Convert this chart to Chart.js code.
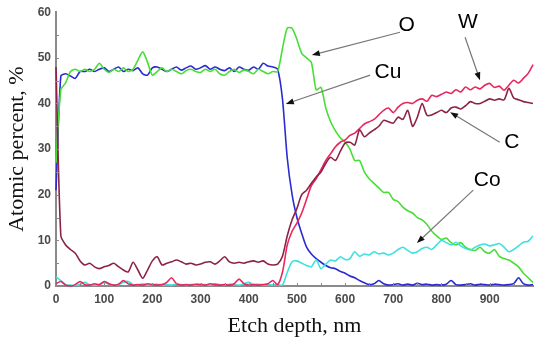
<!DOCTYPE html>
<html>
<head>
<meta charset="utf-8">
<script src="https://cdn.jsdelivr.net/npm/chart.js@4"></script>
<style>
  html, body { margin: 0; padding: 0; background: #fff; }
  #wrap { width: 534px; height: 341px; }
</style>
</head>
<body>
<div id="wrap"><canvas id="myChart" width="534" height="341"></canvas></div>
<script>
// etch depth, nm (every 10 nm)
const depth = [];
for (let d = 0; d <= 990; d += 10) depth.push(d);

const xTicks = [0, 100, 200, 300, 400, 500, 600, 700, 800, 900];
const yTicks = [0, 10, 20, 30, 40, 50, 60];

// atomic percent
const cu = [21, 46, 46.5, 46, 45.5, 47, 47, 47.5, 47, 47.5,
  47.8, 47, 47.5, 48, 47, 47.5, 47.2, 47.8, 46.5, 46.2,
  47.8, 48, 47.5, 47, 47.5, 48, 47.3, 47.8, 48.2, 47.5,
  47.8, 48.3, 47.5, 48, 47.5, 47.2, 47.8, 47, 48, 47.5,
  47.3, 48, 47.5, 48.8, 48.2, 48, 47.5, 41, 28, 20,
  15, 11.5, 8.5, 7, 6, 5.2, 4.5, 4, 3.8, 3.2,
  2.8, 2.2, 1.8, 1.2, 0.7, 0.3, 0.5, 1.2, 0.5, 0.2,
  0.3, 0.5, 0.2, 0.4, 0.2, 0.6, 0.3, 0.4, 0.2, 0.3,
  0.2, 0.4, 1.2, 0.3, 0.2, 0.3, 0.5, 0.2, 0.4, 0.3,
  0.2, 0.4, 0.3, 0.2, 0.3, 0.5, 1.8, 0.5, 0.2, 0.3];

const o = [27, 43, 44.5, 47, 47.5, 47, 47.5, 47, 47.5, 48.8,
  47.5, 46.8, 47.5, 47, 47.8, 47, 47.5, 49.5, 51.3, 49,
  46.2, 47, 47.8, 47, 47.5, 47, 46.5, 47.2, 47.5, 47,
  46.8, 47.5, 47, 47.5, 46.5, 46.2, 47, 47.5, 46.8, 47.3,
  47, 46.5, 47.5, 47, 46.5, 47, 47, 52, 56.5, 56.5,
  54, 51, 50, 49, 43, 43.5, 39, 36, 34, 32.5,
  31.5, 30, 27.5, 27.5, 25, 23.5, 22.5, 21.5, 20.5, 20.5,
  19, 18.5, 17.3, 16.5, 16, 15, 14.5, 13.5, 12, 11,
  10.2, 10.5, 9.5, 9, 9.5, 8.5, 8, 7.8, 8.5, 7.5,
  7.2, 8, 6.5, 6, 5.7, 5, 4.2, 2.8, 1.8, 0.8];

const c = [48, 11, 9, 8, 7.2, 5.5, 4.6, 5, 4.2, 3.8,
  4.2, 4.5, 5, 4.2, 3.5, 3.1, 5.2, 3.5, 1.7, 3.5,
  5.5, 6.4, 4.6, 5, 5.3, 5.7, 5.3, 4.8, 5, 4.6,
  4.8, 5.2, 5.3, 4.8, 5.5, 6.4, 5.3, 5, 5.2, 5,
  5.3, 5.5, 5.2, 5.5, 4.8, 4.6, 4.8, 6.5, 11, 14.5,
  17, 20, 21, 22.5, 23.9, 25, 26.9, 28.2, 27.5, 29.5,
  31.3, 31.5, 30.9, 34.2, 32.7, 33.5, 34.2, 35, 36.3, 36,
  35.7, 37, 36.5, 38.5, 35, 37, 40, 37.4, 37.5, 38,
  38.5, 38, 39, 39.2, 38.8, 39.5, 40.4, 40, 40, 40.5,
  41, 40.7, 41, 40.8, 43.3, 41.2, 40.8, 40.4, 40.2, 40];

const w = [0.5, 1, 0.2, 0, 0.3, 1, 0.3, 0.2, 0.5, 0.3,
  1, 0.5, 0.2, 0.4, 1.2, 0.5, 0.2, 0.3, 0.2, 0.5,
  0.3, 0.2, 0.3, 0.8, 1.8, 0.5, 0.2, 0.3, 0.2, 0.4,
  0.3, 0.2, 0.5, 0.3, 0.2, 0.3, 0.2, 0.5, 1.5, 0.5,
  0.2, 0.3, 0.2, 0.3, 0.5, 1.2, 0.3, 3, 9, 12,
  13.8, 16, 19, 22, 23.5, 25.5, 27.5, 29, 30.5, 31.5,
  32, 33, 33.5, 34.5, 35.5, 36, 36.5, 37.5, 38.5, 39,
  38, 39.2, 40, 40.2, 40, 40.7, 41, 40.5, 41.8, 41.5,
  42, 42.5, 42.2, 43, 42.5, 43.6, 43, 43.6, 43.2, 44,
  44.4, 43.5, 43.8, 42.9, 44, 45.1, 44.5, 45.5, 46.6, 48.5];

const co = [2, 1.2, 0.3, 0.2, 0.1, 0.3, 0.8, 0.3, 0.2, 0.3,
  0.8, 0.4, 0.2, 0.3, 0.8, 1, 0.3, 0.2, 0.5, 0.2,
  0.3, 0.4, 0.2, 0.3, 0.2, 0.4, 0.3, 0.2, 0.3, 0.2,
  0.4, 0.3, 0.2, 0.5, 0.3, 0.2, 0.4, 0.3, 0.2, 0.5,
  0.8, 0.3, 0.4, 0.2, 0.3, 0.2, 0.3, 0.2, 3, 5.3,
  5.5, 5, 4.5, 4.2, 5.7, 3.8, 4.8, 5.7, 5.5, 6.4,
  5.8, 6, 7.5, 6.5, 7, 6.8, 7.5, 7, 7.2, 6.8,
  7.2, 8, 8.5, 7.8, 7.2, 7.5, 8.2, 8.5, 8, 9,
  10, 9.5, 9, 9.6, 8.8, 8.2, 7.9, 8.5, 9, 9.2,
  8.8, 9, 9.3, 8.5, 7.5, 8, 8.8, 9.6, 9.8, 11];

// labels with arrows: text position, arrow start, arrow tip (data units)
const labels = [
  { text: 'O',  at: [728, 57.1], from: [714, 55.6], to: [531, 50.6] },
  { text: 'Cu', at: [689, 46.9], from: [652, 46.2], to: [477, 39.9] },
  { text: 'W',  at: [855, 57.8], from: [849, 54.5], to: [880, 45.1] },
  { text: 'C',  at: [946, 31.5], from: [921, 31.5], to: [818, 38.1] },
  { text: 'Co', at: [895, 23.2], from: [866, 21],   to: [749, 9.4] }
];

const toPts = (ys) => ys.map((v, i) => ({ x: depth[i], y: v }));

const line = (label, ys, color) => ({
  label: label,
  data: toPts(ys),
  borderColor: color,
  borderWidth: 1.6,
  pointRadius: 0,
  tension: 0.25,
  fill: false,
  clip: 4
});

const arrowsPlugin = {
  id: 'arrows',
  afterDatasetsDraw(chart) {
    const ctx = chart.ctx;
    const xs = chart.scales.x, ys = chart.scales.y;
    const area = chart.chartArea;
    ctx.save();
    // small ticks along the axes
    ctx.strokeStyle = '#888';
    ctx.lineWidth = 1;
    for (let d = 50; d < 990; d += 50) {
      const px = Math.round(xs.getPixelForValue(d)) + 0.5;
      ctx.beginPath();
      ctx.moveTo(px, area.bottom);
      ctx.lineTo(px, area.bottom - 3);
      ctx.stroke();
    }
    for (let v = 5; v < 60; v += 5) {
      const py = Math.round(ys.getPixelForValue(v)) + 0.5;
      ctx.beginPath();
      ctx.moveTo(area.left - 1, py);
      ctx.lineTo(area.left + 3, py);
      ctx.stroke();
    }
    labels.forEach(l => {
      const x1 = xs.getPixelForValue(l.from[0]), y1 = ys.getPixelForValue(l.from[1]);
      const x2 = xs.getPixelForValue(l.to[0]), y2 = ys.getPixelForValue(l.to[1]);
      const ang = Math.atan2(y2 - y1, x2 - x1);
      ctx.strokeStyle = '#777';
      ctx.lineWidth = 1.2;
      ctx.beginPath();
      ctx.moveTo(x1, y1);
      ctx.lineTo(x2 - 6 * Math.cos(ang), y2 - 6 * Math.sin(ang));
      ctx.stroke();
      ctx.fillStyle = '#111';
      ctx.beginPath();
      ctx.moveTo(x2, y2);
      ctx.lineTo(x2 - 8 * Math.cos(ang) + 3 * Math.sin(ang), y2 - 8 * Math.sin(ang) - 3 * Math.cos(ang));
      ctx.lineTo(x2 - 8 * Math.cos(ang) - 3 * Math.sin(ang), y2 - 8 * Math.sin(ang) + 3 * Math.cos(ang));
      ctx.closePath();
      ctx.fill();
      ctx.fillStyle = '#000';
      ctx.font = '21px "Liberation Sans", Arial, sans-serif';
      ctx.textAlign = 'center';
      ctx.textBaseline = 'middle';
      ctx.fillText(l.text, xs.getPixelForValue(l.at[0]), ys.getPixelForValue(l.at[1]));
    });
    ctx.restore();
  }
};

const tickFont = { family: '"Liberation Sans", Arial, sans-serif', size: 12, weight: 'bold' };
const titleFont = { family: '"Liberation Serif", "Times New Roman", serif', size: 22 };

new Chart(document.getElementById('myChart').getContext('2d'), {
  type: 'line',
  data: {
    datasets: [
      line('C', c, '#8c2346'),
      line('W', w, '#e8275f'),
      line('Co', co, '#3ee0e0'),
      line('O', o, '#47df35'),
      line('Cu', cu, '#2b2bd2')
    ]
  },
  options: {
    responsive: false,
    animation: false,
    layout: { padding: { top: 12, right: 1, left: 0, bottom: 0 } },
    plugins: { legend: { display: false }, tooltip: { enabled: false } },
    scales: {
      x: {
        type: 'linear',
        min: 0,
        max: 990,
        afterBuildTicks: (s) => { s.ticks = xTicks.map(v => ({ value: v })); },
        afterFit: (s) => { s.height = 55; },
        grid: { display: false, drawTicks: false },
        border: { display: true, color: '#8a8a8a', width: 2 },
        ticks: { font: tickFont, color: '#4a4a4a', padding: 6, maxRotation: 0 },
        title: { display: true, text: 'Etch depth, nm', font: titleFont, color: '#111', padding: { top: 4, bottom: 2 } }
      },
      y: {
        min: 0,
        max: 60,
        afterBuildTicks: (s) => { s.ticks = yTicks.map(v => ({ value: v })); },
        afterFit: (s) => { s.width = 56; },
        grid: { display: false, drawTicks: false },
        border: { display: true, color: '#8a8a8a', width: 2 },
        ticks: { font: tickFont, color: '#4a4a4a', padding: 5 },
        title: { display: true, text: 'Atomic percent, %', font: titleFont, color: '#111', padding: { top: 4, bottom: 2 } }
      }
    }
  },
  plugins: [arrowsPlugin]
});
</script>
</body>
</html>
